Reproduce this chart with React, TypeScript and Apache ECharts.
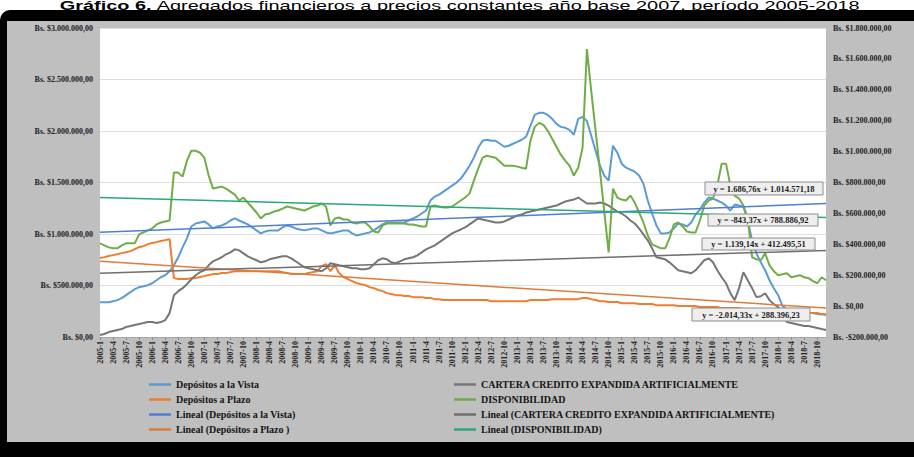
import React, { useEffect, useRef } from "react";
import * as echarts from "echarts";

// ---------- DATA (values in thousands of Bs.) ----------
const years = [2005, 2006, 2007, 2008, 2009, 2010, 2011, 2012, 2013, 2014, 2015, 2016, 2017, 2018];
const monthNumbers = [1, 2, 3, 4, 5, 6, 7, 8, 9, 10, 11, 12];

const depositosVista = [
  338, 338, 338, 348, 358, 377, 406, 435, 464, 484, 493, 503,
  522, 551, 580, 600, 638, 696, 774, 870, 957, 1073, 1102, 1112,
  1122, 1093, 1054, 1073, 1083, 1102, 1131, 1151, 1131, 1112, 1093, 1064,
  1035, 1006, 1025, 1035, 1035, 1035, 1064, 1083, 1073, 1054, 1044, 1035,
  1044, 1054, 1054, 1035, 1015, 1006, 1015, 1025, 1035, 1035, 1006, 986,
  996, 1006, 1015, 1035, 1064, 1093, 1112, 1112, 1112, 1112, 1112, 1131,
  1151, 1170, 1199, 1228, 1325, 1363, 1383, 1412, 1441, 1470, 1499, 1538,
  1596, 1663, 1741, 1837, 1905, 1915, 1905, 1905, 1876, 1847, 1857, 1876,
  1895, 1915, 1944, 2050, 2156, 2176, 2176, 2156, 2118, 2069, 2040, 2031,
  2011, 1963, 2118, 2137, 2098, 1953, 1808, 1663, 1567, 1518, 1857, 1789,
  1683, 1644, 1625, 1605, 1567, 1489, 1325, 1199, 1083, 1006, 1006, 1015,
  1054, 1102, 1093, 1073, 1112, 1189, 1238, 1305, 1354, 1344, 1325, 1305,
  1276, 1228, 1286, 1276, 1267, 1131, 938, 812, 725, 648, 551, 474,
  406, 300, 271, 261, 251, 242, 242, 232, 232, 222, 222, 213,
];

const depositosPlazo = [
  311, 317, 324, 330, 336, 343, 349, 356, 369, 382, 388, 401,
  408, 414, 421, 427, 433, 181, 175, 175, 175, 181, 181, 188,
  194, 201, 207, 207, 214, 214, 220, 226, 226, 226, 226, 226,
  226, 226, 226, 226, 226, 226, 220, 214, 207, 207, 207, 207,
  214, 220, 226, 259, 272, 226, 265, 214, 188, 175, 162, 149,
  142, 136, 123, 116, 104, 97, 84, 78, 71, 71, 65, 65,
  58, 58, 58, 52, 52, 45, 45, 39, 39, 39, 39, 39,
  39, 39, 39, 39, 39, 39, 32, 32, 32, 32, 32, 32,
  32, 32, 32, 39, 39, 39, 39, 39, 45, 45, 45, 45,
  45, 45, 45, 52, 52, 45, 39, 32, 32, 26, 26, 26,
  19, 19, 19, 19, 13, 13, 13, 13, 6, 6, 6, 6,
  6, 0, 0, 0, 0, 0, -6, -6, -6, -6, -6, -13,
  -13, -13, -13, -13, -19, -19, -19, -19, -19, -26, -26, -26,
  -26, -32, -32, -32, -39, -39, -39, -45, -45, -45, -52, -52,
];

const carteraCredito = [
  19, 29, 48, 58, 68, 77, 97, 106, 116, 126, 135, 145,
  145, 135, 145, 164, 232, 406, 445, 474, 513, 561, 600, 629,
  648, 696, 735, 754, 774, 803, 822, 851, 841, 812, 783, 764,
  745, 725, 735, 754, 764, 774, 783, 783, 764, 735, 706, 677,
  667, 658, 648, 638, 667, 716, 706, 696, 687, 677, 667, 667,
  658, 658, 667, 706, 745, 764, 754, 725, 716, 735, 754, 764,
  774, 793, 822, 851, 870, 890, 919, 948, 977, 1006, 1025, 1044,
  1064, 1093, 1122, 1151, 1141, 1131, 1122, 1112, 1112, 1122, 1141, 1160,
  1180, 1189, 1209, 1218, 1228, 1238, 1247, 1257, 1267, 1276, 1296, 1315,
  1325, 1334, 1354, 1325, 1296, 1296, 1296, 1305, 1296, 1276, 1247, 1218,
  1199, 1170, 1131, 1102, 1054, 996, 938, 861, 774, 764, 754, 725,
  687, 648, 638, 629, 619, 648, 696, 745, 764, 725, 648, 580,
  522, 425, 358, 474, 629, 551, 474, 387, 396, 425, 358, 319,
  290, 242, 145, 135, 126, 116, 106, 106, 97, 87, 77, 68,
];

const disponibilidad = [
  909, 890, 870, 861, 861, 890, 909, 909, 909, 996, 1015, 1035,
  1054, 1093, 1112, 1122, 1131, 1596, 1596, 1557, 1712, 1808, 1808, 1789,
  1741, 1567, 1441, 1451, 1460, 1441, 1412, 1383, 1325, 1354, 1305, 1257,
  1209, 1151, 1189, 1199, 1218, 1228, 1247, 1267, 1257, 1247, 1238, 1228,
  1247, 1267, 1276, 1296, 1267, 1083, 1151, 1160, 1141, 1141, 1112, 1102,
  1112, 1112, 1073, 1025, 1015, 1083, 1102, 1102, 1102, 1102, 1102, 1093,
  1093, 1083, 1073, 1073, 1267, 1276, 1267, 1257, 1257, 1267, 1296, 1325,
  1354, 1392, 1518, 1634, 1741, 1760, 1750, 1741, 1702, 1663, 1663, 1663,
  1654, 1644, 1634, 1905, 2040, 2079, 2060, 2002, 1924, 1847, 1770, 1712,
  1663, 1567, 1644, 1837, 2795, 2388, 2002, 1615, 1218, 822, 1441, 1354,
  1334, 1325, 1373, 1305, 1209, 1112, 986, 899, 880, 861, 861, 957,
  1093, 1112, 1073, 1025, 1015, 1015, 1131, 1276, 1325, 1344, 1470, 1683,
  1683, 1470, 1373, 1344, 1276, 1151, 774, 754, 745, 812, 696, 638,
  600, 609, 619, 580, 590, 600, 580, 571, 542, 522, 580, 551,
];

// Trend lines read at first and last month
const trendVista = [1016, 1296];
const trendPlazo = [291, -13];
const trendCartera = [619, 841];
const trendDisponibilidad = [1354, 1160];

const equationLabels = [
  "y = 1.686,76x + 1.014.571,18",
  "y = -843,37x + 788.886,92",
  "y = 1.139,14x + 412.495,51",
  "y = -2.014,33x + 288.396,23",
];

const leftAxisRange = [0, 3000, 500];
const rightAxisRange = [-200, 1800, 200];

const titleBold = "Gráfico 6.";
const titleRest = " Agregados financieros a precios constantes año base 2007, período 2005-2018";

const categories = years.flatMap((y) => monthNumbers.map((m) => `${y}-${m}`));

function formatBs(v: number): string {
  const val = Math.round(v * 1000);
  const abs = Math.abs(val).toString().replace(/\B(?=(\d{3})+(?!\d))/g, ".");
  return `Bs. ${val < 0 ? "-" : ""}$${abs},00`;
}

const SERIF = "'Liberation Serif', 'Times New Roman', serif";
const SANS = "'Liberation Sans', Arial, sans-serif";

export default function App() {
  const ref = useRef<HTMLDivElement>(null);

  useEffect(() => {
    if (!ref.current) return;
    const chart = echarts.init(ref.current, undefined, { renderer: "svg" });
    const first = categories[0];
    const last = categories[categories.length - 1];
    const trend = (t: number[]) => [[first, t[0]], [last, t[1]]];

    const line = (name: string, data: any[], color: string, width: number, yAxisIndex = 0, z = 2) => ({
      type: "line",
      name,
      data,
      yAxisIndex,
      symbol: "none",
      showSymbol: false,
      z,
      lineStyle: { color, width },
      itemStyle: { color },
      emphasis: { disabled: true },
    });

    const eqBox = (x: number, y: number, w: number, h: number, text: string) => ({
      type: "group",
      z: 100,
      children: [
        { type: "rect", z: 100, shape: { x, y, width: w, height: h }, style: { fill: "#eeeeee", stroke: "#8c8c8c", lineWidth: 1 } },
        {
          type: "text",
          z: 101,
          x: x + w / 2,
          y: y + h / 2,
          style: { text, fill: "#1a1a1a", font: `bold 8.5px ${SERIF}`, align: "center", verticalAlign: "middle" },
        },
      ],
    });

    const legendText = { fontFamily: SERIF, fontWeight: "bold", fontSize: 10, color: "#151515", lineHeight: 11 };
    const legendCommon = {
      orient: "vertical",
      top: 374,
      icon: "rect",
      itemWidth: 22,
      itemHeight: 2.5,
      itemGap: 4,
      selectedMode: false,
      textStyle: legendText,
    };

    chart.setOption({
      animation: false,
      backgroundColor: "#ffffff",
      graphic: [
        { type: "rect", z: -100, shape: { x: 0, y: 10, width: 914, height: 447, r: [10, 0, 0, 0] }, style: { fill: "#000000" } },
        { type: "rect", z: -99, shape: { x: 7, y: 21, width: 907, height: 421 }, style: { fill: "#bfbfbf" } },
        {
          type: "text",
          z: 50,
          x: 460,
          y: 0,
          scaleX: 1.66,
          style: {
            text: `{b|${titleBold}}${titleRest}`,
            align: "center",
            verticalAlign: "top",
            font: `12px ${SANS}`,
            fill: "#000000",
            rich: { b: { fontWeight: "bold", fontSize: 12, fontFamily: SANS } },
          },
        },
        eqBox(705, 182, 118, 13, equationLabels[0]),
        eqBox(708, 214, 110, 12, equationLabels[1]),
        eqBox(702, 238, 113, 12, equationLabels[2]),
        eqBox(692, 308, 118, 13, equationLabels[3]),
      ],
      grid: { left: 100, right: 88, top: 28, bottom: 120, show: true, backgroundColor: "#ffffff", borderWidth: 0, containLabel: false },
      legend: [
        {
          ...legendCommon,
          left: 144,
          data: ["Depósitos a la Vista", "Depósitos a Plazo", "Lineal (Depósitos a la Vista)", "Lineal (Depósitos a Plazo )"],
        },
        {
          ...legendCommon,
          left: 449,
          data: [
            "CARTERA CREDITO EXPANDIDA ARTIFICIALMENTE",
            "DISPONIBILIDAD",
            "Lineal (CARTERA CREDITO EXPANDIDA ARTIFICIALMENTE)",
            "Lineal (DISPONIBILIDAD)",
          ],
        },
      ],
      xAxis: {
        type: "category",
        data: categories,
        boundaryGap: false,
        axisLine: { show: true, lineStyle: { color: "#a6a6a6", width: 1 } },
        axisTick: { show: true, interval: 2, length: 3, lineStyle: { color: "#8c8c8c" } },
        axisLabel: {
          interval: 2,
          rotate: 90,
          margin: 4,
          fontFamily: SERIF,
          fontWeight: "bold",
          fontSize: 8,
          color: "#222222",
        },
        splitLine: { show: false },
      },
      yAxis: [
        {
          type: "value",
          min: leftAxisRange[0],
          max: leftAxisRange[1],
          interval: leftAxisRange[2],
          axisLine: { show: false },
          axisTick: { show: false },
          splitLine: { show: true, lineStyle: { color: "#dedede", width: 1 } },
          axisLabel: { formatter: formatBs, margin: 7, fontFamily: SERIF, fontWeight: "bold", fontSize: 8, color: "#222222" },
        },
        {
          type: "value",
          position: "right",
          min: rightAxisRange[0],
          max: rightAxisRange[1],
          interval: rightAxisRange[2],
          axisLine: { show: false },
          axisTick: { show: false },
          splitLine: { show: false },
          axisLabel: { formatter: formatBs, margin: 7, fontFamily: SERIF, fontWeight: "bold", fontSize: 8, color: "#222222" },
        },
      ],
      series: [
        line("Depósitos a la Vista", depositosVista, "#5b9bd5", 2),
        line("Depósitos a Plazo", depositosPlazo, "#ed7d31", 2, 1),
        line("CARTERA CREDITO EXPANDIDA ARTIFICIALMENTE", carteraCredito, "#767676", 2),
        line("DISPONIBILIDAD", disponibilidad, "#70ad47", 2),
        line("Lineal (Depósitos a la Vista)", trend(trendVista), "#4f7fd1", 1.5, 0, 3),
        line("Lineal (Depósitos a Plazo )", trend(trendPlazo), "#e07b39", 1.5, 1, 3),
        line("Lineal (CARTERA CREDITO EXPANDIDA ARTIFICIALMENTE)", trend(trendCartera), "#6f6f6f", 1.5, 0, 3),
        line("Lineal (DISPONIBILIDAD)", trend(trendDisponibilidad), "#2aa876", 1.5, 0, 3),
      ],
    });

    return () => chart.dispose();
  }, []);

  return <div ref={ref} style={{ position: "fixed", left: 0, top: 0, width: 914, height: 457 }} />;
}
